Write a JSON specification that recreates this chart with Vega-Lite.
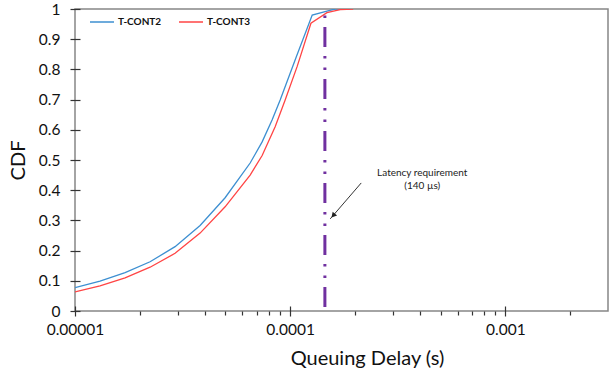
{
  "$schema": "https://vega.github.io/schema/vega-lite/v6.json",
  "width": 533,
  "height": 302,
  "autosize": {"type": "none"},
  "padding": {"left": 75, "top": 9, "right": 5, "bottom": 66},
  "background": "white",
  "config": {
    "view": {"stroke": "#868686", "strokeWidth": 1.5},
    "font": "Lato"
  },
  "encoding": {
    "x": {
      "field": "delay",
      "type": "quantitative",
      "scale": {"type": "log", "domain": [0.00001, 0.003], "nice": false},
      "axis": {
        "title": "Queuing Delay (s)",
        "titleFont": "Lato",
        "titleFontSize": 20,
        "titleFontWeight": "normal",
        "titleColor": "#111",
        "titlePadding": 11,
        "titleX": 292,
        "domain": false,
        "offset": -5,
        "values": [0.00001, 0.00002, 0.00003, 0.00004, 0.00005, 0.00006, 0.00007, 0.00008, 0.00009, 0.0001, 0.0002, 0.0003, 0.0004, 0.0005, 0.0006, 0.0007, 0.0008, 0.0009, 0.001, 0.002],
        "tickSize": 10,
        "tickColor": "#333",
        "tickWidth": 1.2,
        "tickDash": {"condition": {"test": "abs(log(datum.value)/LN10 - round(log(datum.value)/LN10)) < 0.000001", "value": [10, 0]}, "value": [0, 5, 4, 1]},
        "labelExpr": "abs(log(datum.value)/LN10 - round(log(datum.value)/LN10)) < 0.000001 ? format(datum.value, '.5~f') : ''",
        "labelFont": "Lato",
        "labelFontSize": 15.5,
        "labelColor": "#111",
        "labelPadding": 6,
        "labelFlush": false,
        "labelOverlap": false,
        "grid": false
      }
    },
    "y": {
      "field": "cdf",
      "type": "quantitative",
      "scale": {"domain": [0, 1], "nice": false, "zero": false},
      "axis": {
        "title": "CDF",
        "titleFont": "Lato",
        "titleFontSize": 20,
        "titleFontWeight": "normal",
        "titleColor": "#111",
        "titlePadding": 10,
        "domain": false,
        "offset": -5,
        "values": [0, 0.1, 0.2, 0.3, 0.4, 0.5, 0.6, 0.7, 0.8, 0.9, 1],
        "tickCount": 11,
        "format": "~g",
        "tickSize": 10,
        "tickColor": "#333",
        "tickWidth": 1.2,
        "labelFont": "Lato",
        "labelFontSize": 15.5,
        "labelColor": "#111",
        "labelPadding": 10,
        "labelFlush": false,
        "labelOverlap": false,
        "grid": false
      }
    }
  },
  "layer": [
    {
      "data": {
        "values": [
          {"series": "T-CONT2", "delay": 0.00001, "cdf": 0.077},
          {"series": "T-CONT2", "delay": 0.00001307, "cdf": 0.099},
          {"series": "T-CONT2", "delay": 0.00001709, "cdf": 0.127},
          {"series": "T-CONT2", "delay": 0.00002233, "cdf": 0.163},
          {"series": "T-CONT2", "delay": 0.00002918, "cdf": 0.213},
          {"series": "T-CONT2", "delay": 0.00003814, "cdf": 0.283},
          {"series": "T-CONT2", "delay": 0.00004985, "cdf": 0.375},
          {"series": "T-CONT2", "delay": 0.00006516, "cdf": 0.49},
          {"series": "T-CONT2", "delay": 0.00007409, "cdf": 0.56},
          {"series": "T-CONT2", "delay": 0.00008249, "cdf": 0.633},
          {"series": "T-CONT2", "delay": 0.00008985, "cdf": 0.699},
          {"series": "T-CONT2", "delay": 0.0001066, "cdf": 0.84},
          {"series": "T-CONT2", "delay": 0.0001266, "cdf": 0.98},
          {"series": "T-CONT2", "delay": 0.0001482, "cdf": 0.993},
          {"series": "T-CONT2", "delay": 0.0001619, "cdf": 1.0},
          {"series": "T-CONT2", "delay": 0.00019, "cdf": 1.0},
          {"series": "T-CONT3", "delay": 0.00001, "cdf": 0.063},
          {"series": "T-CONT3", "delay": 0.00001307, "cdf": 0.083},
          {"series": "T-CONT3", "delay": 0.00001709, "cdf": 0.11},
          {"series": "T-CONT3", "delay": 0.00002233, "cdf": 0.145},
          {"series": "T-CONT3", "delay": 0.00002918, "cdf": 0.191},
          {"series": "T-CONT3", "delay": 0.00003814, "cdf": 0.258},
          {"series": "T-CONT3", "delay": 0.00004985, "cdf": 0.345},
          {"series": "T-CONT3", "delay": 0.00006516, "cdf": 0.45},
          {"series": "T-CONT3", "delay": 0.00007409, "cdf": 0.515},
          {"series": "T-CONT3", "delay": 0.00008516, "cdf": 0.61},
          {"series": "T-CONT3", "delay": 0.00009478, "cdf": 0.699},
          {"series": "T-CONT3", "delay": 0.0001078, "cdf": 0.81},
          {"series": "T-CONT3", "delay": 0.0001249, "cdf": 0.953},
          {"series": "T-CONT3", "delay": 0.0001482, "cdf": 0.988},
          {"series": "T-CONT3", "delay": 0.0001708, "cdf": 0.998},
          {"series": "T-CONT3", "delay": 0.0001963, "cdf": 1.0}
        ]
      },
      "mark": {"type": "line", "strokeWidth": 1.3, "clip": true},
      "encoding": {
        "color": {
          "field": "series",
          "type": "nominal",
          "scale": {"domain": ["T-CONT2", "T-CONT3"], "range": ["#3D8FD1", "#FF4444"]},
          "legend": {
            "title": null,
            "orient": "none",
            "legendX": 14,
            "legendY": 0,
            "direction": "horizontal",
            "symbolType": "stroke",
            "symbolSize": 576,
            "symbolStrokeWidth": 1.5,
            "labelFont": "Lato",
            "labelFontSize": 10,
            "labelFontWeight": "bold",
            "labelColor": "#111",
            "labelOffset": 3,
            "columnPadding": 14
          }
        }
      }
    },
    {
      "data": {"values": [{"delay": 0.000145, "cdf": 1, "cdf2": 0}]},
      "mark": {"type": "rule", "color": "#7030A0", "strokeWidth": 3, "strokeDash": [20, 9, 2.5, 9, 2.5, 9], "strokeDashOffset": 34},
      "encoding": {
        "y2": {"field": "cdf2"}
      }
    },
    {
      "data": {"values": [{"delay": 0.0002139, "cdf": 0.424, "delay2": 0.0001535, "cdf2": 0.305}]},
      "mark": {"type": "rule", "color": "#333", "strokeWidth": 1},
      "encoding": {
        "x2": {"field": "delay2"},
        "y2": {"field": "cdf2"}
      }
    },
    {
      "data": {"values": [{"delay": 0.0001585, "cdf": 0.316}]},
      "mark": {"type": "point", "shape": "triangle-up", "filled": true, "color": "#222", "size": 35, "angle": 221, "opacity": 1},
      "encoding": {}
    },
    {
      "data": {"values": [{"delay": 0.000411, "cdf": 0.447, "label": ["Latency requirement", "(140 µs)"]}]},
      "mark": {"type": "text", "font": "Lato", "fontSize": 10, "color": "#222", "align": "center", "baseline": "alphabetic", "lineHeight": 13},
      "encoding": {
        "text": {"field": "label"}
      }
    }
  ]
}
